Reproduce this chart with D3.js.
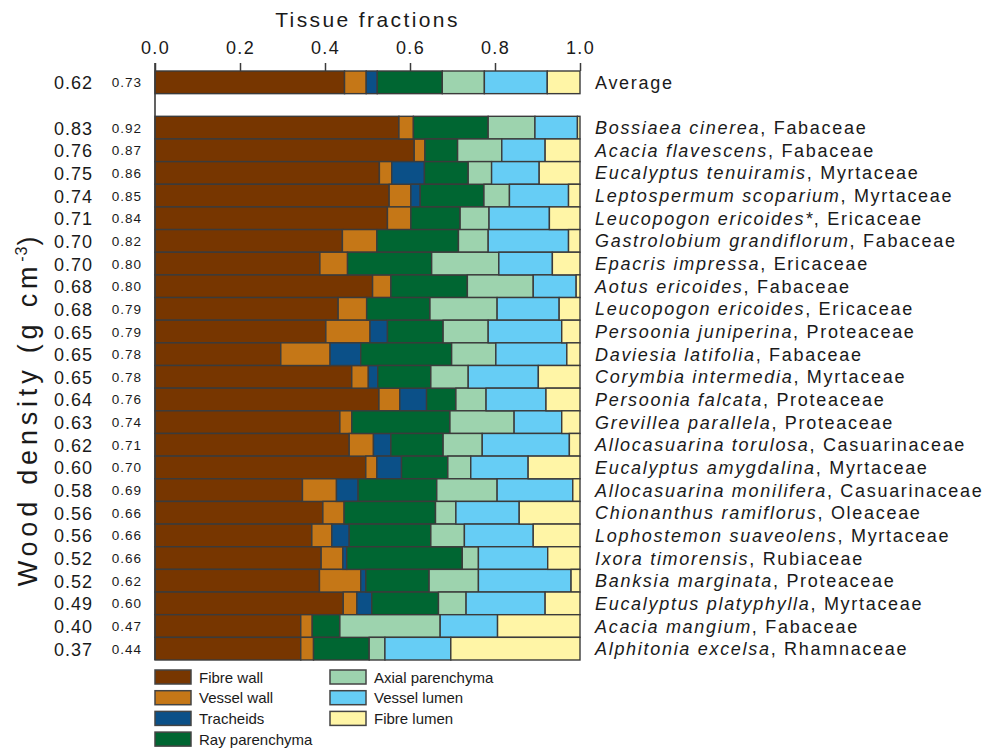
<!DOCTYPE html>
<html>
<head>
<meta charset="utf-8">
<script src="https://cdn.jsdelivr.net/npm/d3@7"></script>
<style>
  html, body { margin: 0; padding: 0; background: #ffffff; }
  svg { display: block; font-family: "Liberation Sans", Arial, Helvetica, sans-serif; }
</style>
</head>
<body>
<svg id="chart" width="987" height="750"></svg>
<script>
// ---------- DATA ----------
const species = ["Average", "Bossiaea cinerea", "Acacia flavescens", "Eucalyptus tenuiramis", "Leptospermum scoparium",
  "Leucopogon ericoides*", "Gastrolobium grandiflorum", "Epacris impressa", "Aotus ericoides", "Leucopogon ericoides",
  "Persoonia juniperina", "Daviesia latifolia", "Corymbia intermedia", "Persoonia falcata", "Grevillea parallela",
  "Allocasuarina torulosa", "Eucalyptus amygdalina", "Allocasuarina monilifera", "Chionanthus ramiflorus",
  "Lophostemon suaveolens", "Ixora timorensis", "Banksia marginata", "Eucalyptus platyphylla", "Acacia mangium",
  "Alphitonia excelsa"];
const families = ["", "Fabaceae", "Fabaceae", "Myrtaceae", "Myrtaceae", "Ericaceae", "Fabaceae", "Ericaceae", "Fabaceae",
  "Ericaceae", "Proteaceae", "Fabaceae", "Myrtaceae", "Proteaceae", "Proteaceae", "Casuarinaceae", "Myrtaceae",
  "Casuarinaceae", "Oleaceae", "Myrtaceae", "Rubiaceae", "Proteaceae", "Myrtaceae", "Fabaceae", "Rhamnaceae"];
const woodDensity = ["0.62", "0.83", "0.76", "0.75", "0.74", "0.71", "0.70", "0.70", "0.68", "0.68", "0.65", "0.65", "0.65",
  "0.64", "0.63", "0.62", "0.60", "0.58", "0.56", "0.56", "0.52", "0.52", "0.49", "0.40", "0.37"];
const secondDensity = ["0.73", "0.92", "0.87", "0.86", "0.85", "0.84", "0.82", "0.80", "0.80", "0.79", "0.79", "0.78", "0.78",
  "0.76", "0.74", "0.71", "0.70", "0.69", "0.66", "0.66", "0.66", "0.62", "0.60", "0.47", "0.44"];

const fibreWall       = [0.446, 0.574, 0.610, 0.528, 0.551, 0.547, 0.441, 0.388, 0.512, 0.431, 0.402, 0.296, 0.463, 0.527, 0.435, 0.457, 0.496, 0.347, 0.395, 0.369, 0.391, 0.387, 0.443, 0.343, 0.343];
const vesselWall      = [0.051, 0.034, 0.025, 0.029, 0.051, 0.055, 0.081, 0.065, 0.043, 0.067, 0.104, 0.116, 0.039, 0.049, 0.028, 0.057, 0.026, 0.080, 0.050, 0.047, 0.051, 0.097, 0.032, 0.027, 0.030];
const tracheids       = [0.026, 0.000, 0.000, 0.077, 0.022, 0.000, 0.000, 0.000, 0.000, 0.000, 0.041, 0.072, 0.022, 0.063, 0.000, 0.041, 0.058, 0.051, 0.000, 0.041, 0.009, 0.012, 0.035, 0.000, 0.000];
const rayParenchyma   = [0.153, 0.176, 0.077, 0.103, 0.150, 0.116, 0.192, 0.198, 0.180, 0.149, 0.131, 0.214, 0.125, 0.069, 0.231, 0.123, 0.109, 0.185, 0.215, 0.192, 0.272, 0.149, 0.157, 0.065, 0.131];
const axialParenchyma = [0.099, 0.110, 0.104, 0.055, 0.060, 0.068, 0.070, 0.158, 0.155, 0.158, 0.106, 0.104, 0.088, 0.071, 0.151, 0.092, 0.054, 0.142, 0.048, 0.079, 0.038, 0.116, 0.065, 0.236, 0.037];
const vesselLumen     = [0.148, 0.100, 0.102, 0.112, 0.139, 0.142, 0.189, 0.126, 0.101, 0.146, 0.173, 0.167, 0.165, 0.141, 0.112, 0.205, 0.135, 0.178, 0.149, 0.162, 0.163, 0.218, 0.186, 0.135, 0.155];
const fibreLumen      = [0.077, 0.006, 0.082, 0.096, 0.027, 0.072, 0.027, 0.065, 0.009, 0.049, 0.043, 0.031, 0.098, 0.080, 0.043, 0.025, 0.122, 0.017, 0.143, 0.110, 0.076, 0.021, 0.082, 0.194, 0.304];

const tissueNames  = ["Fibre wall", "Vessel wall", "Tracheids", "Ray parenchyma", "Axial parenchyma", "Vessel lumen", "Fibre lumen"];
const tissueColors = ["#773600", "#c57717", "#0b5088", "#006632", "#9dd3ae", "#66cdf5", "#fff5a6"];
const tickValues   = [0, 0.2, 0.4, 0.6, 0.8, 1.0];

// ---------- BUILD TABLE ----------
const seriesArrays = [fibreWall, vesselWall, tracheids, rayParenchyma, axialParenchyma, vesselLumen, fibreLumen];
const table = species.map((s, i) => {
  const row = { name: s };
  tissueNames.forEach((t, k) => { row[t] = seriesArrays[k][i]; });
  return row;
});
const stacked = d3.stack().keys(tissueNames)(table);

// ---------- LAYOUT ----------
const svg = d3.select("#chart");
const x0 = 155, x1 = 580, yTop = 71, yBot = 660;
const x = d3.scaleLinear().domain([0, 1]).range([x0, x1]);
const rowKeys = [species[0], "__gap__"].concat(species.slice(1));
const y = d3.scaleBand().domain(rowKeys).range([yTop, yBot]).paddingInner(0).paddingOuter(0);
const color = d3.scaleOrdinal().domain(tissueNames).range(tissueColors);
const textCol = "#1a1a1a";
const strokeCol = "#3b3b3b";

// Title
svg.append("text")
  .attr("x", (x0 + x1) / 2).attr("y", 27)
  .attr("text-anchor", "middle")
  .style("font-size", "21px").style("letter-spacing", "2.4px")
  .attr("fill", textCol)
  .text("Tissue fractions");

// Top axis
const axis = svg.append("g")
  .attr("transform", `translate(0,${yTop})`)
  .call(d3.axisTop(x).tickValues(tickValues).tickFormat(d3.format(".1f")).tickSize(8).tickPadding(9));
axis.select(".domain").remove();
axis.selectAll(".tick line").attr("stroke", strokeCol).attr("stroke-width", 1.5);
axis.selectAll(".tick text")
  .attr("fill", textCol)
  .style("font-size", "18px").style("letter-spacing", "1.4px")
  .style("font-family", "'Liberation Sans', Arial, sans-serif");

// Bars
const layer = svg.append("g").selectAll("g").data(stacked).join("g")
  .attr("fill", d => color(d.key));
layer.selectAll("rect")
  .data(d => d.filter(p => (p[1] - p[0]) > 0))
  .join("rect")
  .attr("x", p => x(p[0]))
  .attr("width", p => x(p[1]) - x(p[0]))
  .attr("y", p => y(p.data.name))
  .attr("height", y.bandwidth())
  .attr("stroke", strokeCol)
  .attr("stroke-width", 1.4);

// Left axis line
svg.append("line")
  .attr("x1", x0).attr("x2", x0)
  .attr("y1", yTop - 8).attr("y2", yBot)
  .attr("stroke", strokeCol).attr("stroke-width", 1.6);

// Left labels
const rows = species.map((s, i) => ({ name: s, fam: families[i], wd: woodDensity[i], sd: secondDensity[i] }));
const labels = svg.append("g").selectAll("g").data(rows).join("g")
  .attr("transform", d => `translate(0,${y(d.name) + y.bandwidth() / 2})`);
labels.append("text")
  .attr("x", 93).attr("y", 7)
  .attr("text-anchor", "end")
  .style("font-size", "18px").style("letter-spacing", "1px")
  .attr("fill", textCol)
  .text(d => d.wd);
labels.append("text")
  .attr("x", 142).attr("y", 5)
  .attr("text-anchor", "end")
  .style("font-size", "13.5px").style("letter-spacing", "1px")
  .attr("fill", textCol)
  .text(d => d.sd);

// Right labels
const rl = labels.append("text")
  .attr("x", 595).attr("y", 6.5)
  .style("font-size", "18px").style("letter-spacing", "1.7px")
  .attr("fill", textCol);
rl.append("tspan")
  .style("font-style", d => d.fam ? "italic" : "normal")
  .text(d => d.name);
rl.append("tspan")
  .text(d => d.fam ? ", " + d.fam : "");

// Y axis title
const yt = svg.append("text")
  .attr("transform", "translate(37,409) rotate(-90)")
  .attr("text-anchor", "middle")
  .style("font-size", "27px").style("letter-spacing", "4.8px")
  .attr("fill", textCol);
yt.append("tspan").text("Wood density  (g cm");
yt.append("tspan").attr("dy", "-0.6em").style("font-size", "16px").style("letter-spacing", "1px").text("-3");
yt.append("tspan").attr("dy", "0.36em").text(")");

// Legend
const legend = svg.append("g").selectAll("g").data(tissueNames).join("g")
  .attr("transform", (d, i) => {
    const col = i < 4 ? 0 : 1;
    const r = i < 4 ? i : i - 4;
    return `translate(${col === 0 ? 155 : 330},${670 + r * 20.7})`;
  });
legend.append("rect")
  .attr("width", 36).attr("height", 14)
  .attr("fill", d => color(d))
  .attr("stroke", "#444").attr("stroke-width", 1.5);
legend.append("text")
  .attr("x", 44).attr("y", 12.5)
  .style("font-size", "15px")
  .attr("fill", textCol)
  .text(d => d);
</script>
</body>
</html>
